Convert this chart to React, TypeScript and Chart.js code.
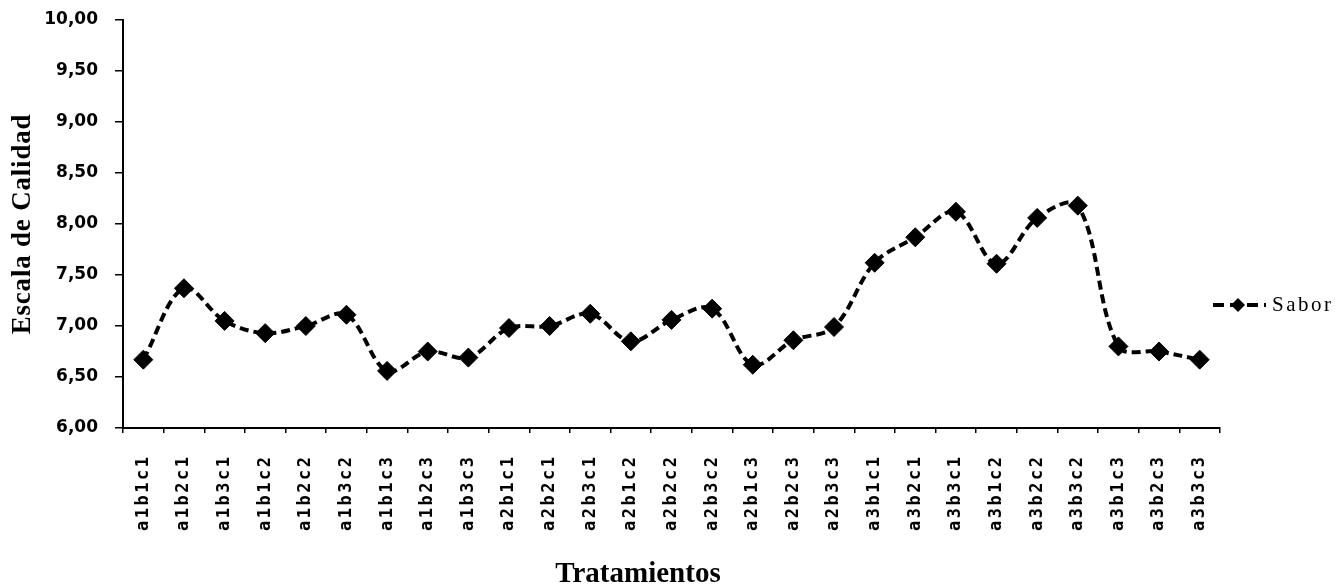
import React, { useEffect, useRef } from 'react';
import { Chart, registerables } from 'chart.js';

Chart.register(...registerables);

const CATEGORIES = [
  'a1b1c1', 'a1b2c1', 'a1b3c1', 'a1b1c2', 'a1b2c2', 'a1b3c2', 'a1b1c3', 'a1b2c3', 'a1b3c3',
  'a2b1c1', 'a2b2c1', 'a2b3c1', 'a2b1c2', 'a2b2c2', 'a2b3c2', 'a2b1c3', 'a2b2c3', 'a2b3c3',
  'a3b1c1', 'a3b2c1', 'a3b3c1', 'a3b1c2', 'a3b2c2', 'a3b3c2', 'a3b1c3', 'a3b2c3', 'a3b3c3',
];
const SABOR = [
  6.67, 7.37, 7.05, 6.93, 7.0, 7.11, 6.56, 6.75, 6.69,
  6.98, 7.0, 7.12, 6.85, 7.06, 7.17, 6.62, 6.86, 6.99,
  7.62, 7.87, 8.12, 7.61, 8.06, 8.18, 6.8, 6.75, 6.67,
];
const SERIES_LABEL = 'Sabor';
const Y_TITLE = 'Escala de Calidad';
const X_TITLE = 'Tratamientos';
const Y_MIN = 6;
const Y_MAX = 10;
const Y_STEP = 0.5;

function withSpacing(scale: any, fnName: string, spacing: string) {
  if (scale['__patched_' + fnName]) return;
  const orig = scale[fnName].bind(scale);
  scale[fnName] = (...args: any[]) => {
    const ctx = scale.ctx;
    ctx.save();
    (ctx as any).letterSpacing = spacing;
    orig(...args);
    ctx.restore();
  };
  scale['__patched_' + fnName] = true;
}

const spacingPlugin = {
  id: 'spacingPlugin',
  beforeDraw(chart: any) {
    const xs = chart.scales.x;
    const ys = chart.scales.y;
    if (xs) withSpacing(xs, 'drawLabels', '2.5px');
    if (ys) withSpacing(ys, 'drawTitle', '0.8px');
  },
};

const extrasPlugin = {
  id: 'extrasPlugin',
  afterDraw(chart: any) {
    const ctx = chart.ctx as CanvasRenderingContext2D;
    ctx.save();
    // x-axis title
    ctx.fillStyle = '#000';
    ctx.font = 'bold 29px "Liberation Serif", serif';
    ctx.textAlign = 'center';
    ctx.textBaseline = 'alphabetic';
    ctx.fillText(X_TITLE, 638, 582);

    // legend
    const ly = 305;
    ctx.strokeStyle = '#000';
    ctx.lineWidth = 4;
    ctx.setLineDash([11, 6]);
    ctx.beginPath();
    ctx.moveTo(1213, ly);
    ctx.lineTo(1266, ly);
    ctx.stroke();
    ctx.setLineDash([]);
    ctx.beginPath();
    const cx = 1238;
    const r = 7;
    ctx.moveTo(cx, ly - r);
    ctx.lineTo(cx + r, ly);
    ctx.lineTo(cx, ly + r);
    ctx.lineTo(cx - r, ly);
    ctx.closePath();
    ctx.fill();
    (ctx as any).letterSpacing = '2.5px';
    ctx.font = '21px "Liberation Serif", serif';
    ctx.textAlign = 'left';
    ctx.textBaseline = 'middle';
    ctx.fillText(chart.data.datasets[0].label, 1272, ly);
    ctx.restore();
  },
};

export default function App() {
  const ref = useRef<HTMLCanvasElement | null>(null);

  useEffect(() => {
    if (!ref.current) return;
    const chart = new Chart(ref.current, {
      type: 'line',
      data: {
        labels: CATEGORIES,
        datasets: [
          {
            label: SERIES_LABEL,
            data: SABOR,
            borderColor: '#000',
            backgroundColor: '#000',
            borderWidth: 4,
            borderDash: [9, 5],
            tension: 0.35,
            pointStyle: 'rectRot',
            pointRadius: 9.5,
            pointBackgroundColor: '#000',
            pointBorderColor: '#000',
            pointBorderWidth: 1,
            fill: false,
          },
        ],
      },
      options: {
        animation: false,
        responsive: true,
        maintainAspectRatio: false,
        layout: { autoPadding: false, padding: { top: 20, right: 119, left: 0, bottom: 0 } },
        plugins: {
          legend: { display: false },
          tooltip: { enabled: false },
        },
        scales: {
          x: {
            type: 'category',
            offset: true,
            grid: {
              offset: true,
              drawOnChartArea: false,
              drawTicks: true,
              tickLength: 5,
              color: '#000',
              lineWidth: 1.5,
            },
            border: { display: true, color: '#000', width: 2 },
            ticks: {
              autoSkip: false,
              maxRotation: 90,
              minRotation: 90,
              padding: 21.5,
              color: '#000',
              font: { family: '"DejaVu Sans Mono", monospace', size: 17, weight: 'bold' },
            },
            afterFit(scale: any) {
              scale.height = 160;
              scale.paddingLeft = 0;
              scale.paddingRight = 0;
            },
          },
          y: {
            min: Y_MIN,
            max: Y_MAX,
            grid: {
              drawOnChartArea: false,
              drawTicks: true,
              tickLength: 8,
              color: '#000',
              lineWidth: 1.5,
            },
            border: { display: true, color: '#000', width: 2 },
            ticks: {
              stepSize: Y_STEP,
              padding: 17,
              color: '#000',
              font: { family: '"DejaVu Sans", sans-serif', size: 17, weight: 'bold' },
              callback: (v: any) => Number(v).toFixed(2).replace('.', ','),
            },
            title: {
              display: true,
              text: Y_TITLE,
              color: '#000',
              font: { family: '"Liberation Serif", serif', size: 27, weight: 'bold', lineHeight: 1 },
              padding: { top: 9.5, bottom: 0 },
            },
            afterFit(scale: any) {
              scale.width = 123;
              scale.paddingTop = 0;
              scale.paddingBottom = 0;
            },
          },
        },
      },
      plugins: [spacingPlugin, extrasPlugin],
    });
    return () => chart.destroy();
  }, []);

  return (
    <div style={{ position: 'fixed', left: 0, top: 0, width: 1339, height: 588, background: '#fff' }}>
      <canvas ref={ref} />
    </div>
  );
}
